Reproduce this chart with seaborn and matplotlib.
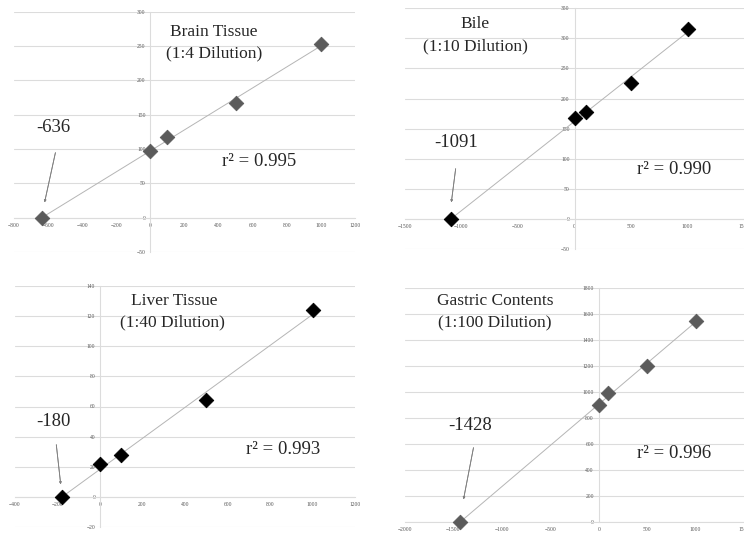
import numpy as np
import pandas as pd
import matplotlib
matplotlib.use("Agg")
import matplotlib.pyplot as plt
import seaborn as sns

# standard addition data (added amount vs response)
added = [0, 100, 500, 1000]

brain_y = [97, 117, 167, 253]
bile_y = [167, 178, 226, 315]
liver_y = [21.5, 28, 64, 124]
gastric_y = [900, 990, 1200, 1545]

intercepts = [-636, -1091, -180, -1428]
r2_values = ["0.995", "0.990", "0.993", "0.996"]
titles = ["Brain Tissue", "Bile", "Liver Tissue", "Gastric Contents"]
dilutions = ["(1:4 Dilution)", "(1:10 Dilution)", "(1:40 Dilution)", "(1:100 Dilution)"]

W, H = 744, 538

sns.set_theme(style="white")
plt.rcParams['font.family'] = ['Liberation Serif', 'DejaVu Serif']


def px(x, y):
    # top-left pixel -> figure fraction
    return x / W, 1 - y / H


def box(left, right, top, bottom):
    return [left / W, 1 - bottom / H, (right - left) / W, (bottom - top) / H]


panels = [
    dict(y=brain_y, color="#5b5b5b", rect=box(14, 355, 11.7, 252),
         xlim=(-800, 1200), xstep=200, ylim=(-50, 300), ystep=50,
         title_xy=(214, 32), dil_xy=(214, 53), lab_xy=(53, 128),
         arr=((56, 150), (44, 205)), r2_xy=(259, 162)),
    dict(y=bile_y, color="#000000", rect=box(405, 744, 8.3, 249),
         xlim=(-1500, 1500), xstep=500, ylim=(-50, 350), ystep=50,
         title_xy=(475, 24), dil_xy=(475, 46), lab_xy=(456, 142),
         arr=((456, 166), (451, 205)), r2_xy=(674, 169)),
    dict(y=liver_y, color="#000000", rect=box(15, 355, 286, 527),
         xlim=(-400, 1200), xstep=200, ylim=(-20, 140), ystep=20,
         title_xy=(174, 301), dil_xy=(172, 322), lab_xy=(53, 421),
         arr=((56, 442), (61, 487)), r2_xy=(283, 450)),
    dict(y=gastric_y, color="#5b5b5b", rect=box(405, 744, 288, 522),
         xlim=(-2000, 1500), xstep=500, ylim=(0, 1800), ystep=200,
         title_xy=(495, 301), dil_xy=(495, 322), lab_xy=(470, 426),
         arr=((474, 445), (463, 502)), r2_xy=(674, 453)),
]

fig = plt.figure(figsize=(W / 100, H / 100), dpi=100)
grid_c = "#dcdcdc"

for p, x0, r2, title, dil in zip(panels, intercepts, r2_values, titles, dilutions):
    ax = fig.add_axes(p["rect"])
    df = pd.DataFrame({"x": added + [x0], "y": p["y"] + [0]})

    sns.regplot(data=df, x="x", y="y", ax=ax, ci=None, scatter=False, truncate=True,
                line_kws=dict(color="#b5b5b5", lw=0.7))
    sns.scatterplot(data=df, x="x", y="y", ax=ax, marker="D", s=55,
                    color=p["color"], edgecolor=p["color"], zorder=5, clip_on=False)

    ax.set_xlim(p["xlim"])
    ax.set_ylim(p["ylim"])
    ax.set_xticks(np.arange(p["xlim"][0], p["xlim"][1] + 1, p["xstep"]))
    ax.set_yticks(np.arange(p["ylim"][0], p["ylim"][1] + 1, p["ystep"]))
    ax.set_xlabel("")
    ax.set_ylabel("")
    ax.patch.set_alpha(0)

    for s in ["top", "right"]:
        ax.spines[s].set_visible(False)
    ax.spines["left"].set_position(("data", 0))
    ax.spines["bottom"].set_position(("data", 0))
    for s in ["left", "bottom"]:
        ax.spines[s].set_color(grid_c)
        ax.spines[s].set_linewidth(0.8)
    ax.yaxis.grid(True, color=grid_c, lw=0.8)
    ax.set_axisbelow(True)
    ax.tick_params(axis="both", labelsize=4, colors="#9a9a9a", length=2, width=0.5,
                   pad=1.5, labelcolor="#555555")

    fig.text(*px(*p["title_xy"]), title, ha="center", va="center", fontsize=12.5)
    fig.text(*px(*p["dil_xy"]), dil, ha="center", va="center", fontsize=12.5)
    fig.text(*px(*p["lab_xy"]), str(x0), ha="center", va="center", fontsize=13.5)
    fig.text(*px(*p["r2_xy"]), f"r\u00b2 = {r2}", ha="center", va="center", fontsize=13.5)
    fig.add_artist(plt.annotate("", xy=px(*p["arr"][1]), xytext=px(*p["arr"][0]),
                                xycoords="figure fraction", textcoords="figure fraction",
                                arrowprops=dict(arrowstyle="-|>", color="#808080", lw=0.6,
                                                mutation_scale=3)))

fig.savefig("out.png", dpi=100)
